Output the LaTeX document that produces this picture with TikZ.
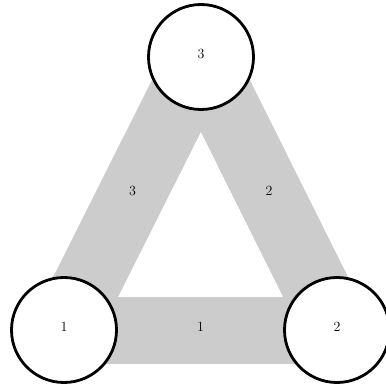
\documentclass[tikz,border=0pt]{standalone}
\usetikzlibrary{backgrounds}
\begin{document}
\begin{tikzpicture}[x=1pt,y=-1pt,
  vert/.style={circle,draw=black,line width=2.8pt,fill=white,minimum size=105pt,inner sep=0pt,text depth=6pt,font=\fontsize{14}{17}\selectfont},
  band/.style={line width=67pt,draw=black!20,line cap=butt},
  elab/.style={font=\fontsize{14}{17}\selectfont,inner sep=0pt,text depth=6pt}]
\useasboundingbox (0,0) rectangle (386,385);
\node[vert] (n1) at (64,330) {1};
\node[vert] (n2) at (337,330) {2};
\node[vert] (n3) at (201,57) {3};
\begin{scope}[on background layer]
  \draw[band] (n1.center) -- (n2.center);
  \draw[band] (n2.center) -- (n3.center);
  \draw[band] (n3.center) -- (n1.center);
\end{scope}
\path (n1.center) -- node[elab] (l1) {1} (n2.center);
\path (n2.center) -- node[elab] (l2) {2} (n3.center);
\path (n3.center) -- node[elab] (l3) {3} (n1.center);
\end{tikzpicture}
\end{document}
